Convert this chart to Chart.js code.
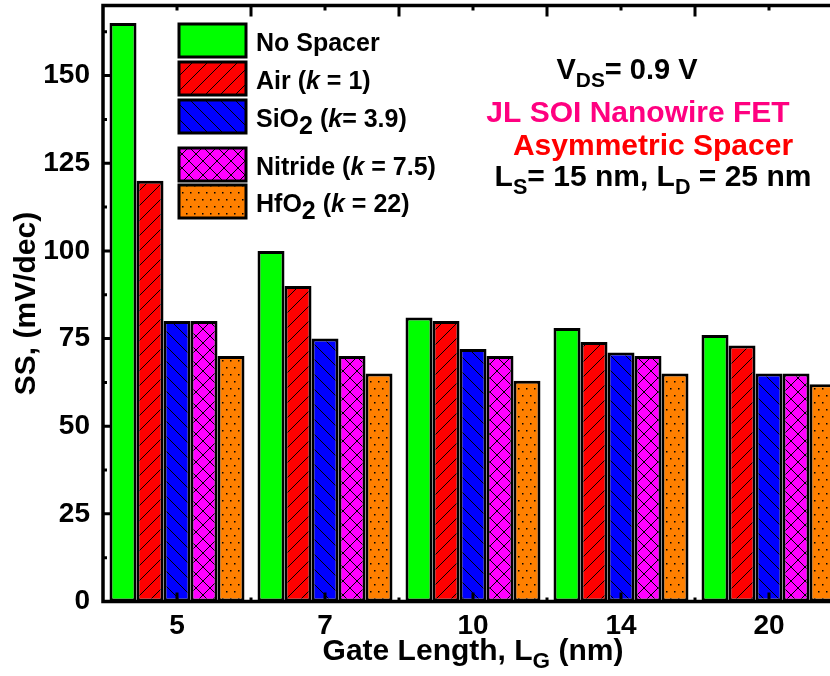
<!DOCTYPE html>
<html>
<head>
<meta charset="utf-8">
<script src="https://cdn.jsdelivr.net/npm/chart.js@4.4.1/dist/chart.umd.min.js"></script>
<style>
  html, body { margin: 0; padding: 0; background: #fff; overflow: hidden; }
  #wrap { width: 830px; height: 676px; overflow: hidden; position: relative; }
  #wrap canvas { position: absolute; left: 0; top: 0; }
</style>
</head>
<body>
<div id="wrap"><canvas id="chart" width="860" height="676"></canvas></div>
<script>
// gate lengths (nm) and subthreshold swing per spacer material
const categories = ['5', '7', '10', '14', '20'];
const noSpacer = [165, 100, 81, 78, 76];
const air = [120, 90, 80, 74, 73];
const sio2 = [80, 75, 72, 71, 65];
const nitride = [80, 70, 70, 70, 65];
const hfo2 = [70, 65, 63, 65, 62];
const yTicks = [0, 25, 50, 75, 100, 125, 150];

const FONT = 'Arial, "Liberation Sans", sans-serif';
const canvas = document.getElementById('chart');
const ctx = canvas.getContext('2d');

// small canvas tiles used as hatch fills
function makePattern(bg, w, h, draw) {
  const c = document.createElement('canvas');
  c.width = w; c.height = h;
  const g = c.getContext('2d');
  g.fillStyle = bg;
  g.fillRect(0, 0, w, h);
  g.strokeStyle = '#000';
  g.fillStyle = '#000';
  g.lineWidth = 1;
  draw(g, w, h);
  return ctx.createPattern(c, 'repeat');
}
const fwd = (g, w, h) => {
  g.beginPath();
  for (const k of [-w, 0, w]) { g.moveTo(k, h); g.lineTo(k + w, 0); }
  g.stroke();
};
const back = (g, w, h) => {
  g.beginPath();
  for (const k of [-w, 0, w]) { g.moveTo(k, 0); g.lineTo(k + w, h); }
  g.stroke();
};

const fills = {
  noSpacer: '#00ff00',
  air: makePattern('#ff0000', 15, 15, fwd),
  sio2: makePattern('#0000ff', 15, 15, back),
  nitride: makePattern('#ff00ff', 14, 14, (g, w, h) => { fwd(g, w, h); back(g, w, h); }),
  hfo2: makePattern('#ff8000', 8, 14, g => { g.fillRect(2, 3, 1.5, 1.5); g.fillRect(6, 10, 1.5, 1.5); })
};

// draws a line of text made of plain / italic / subscript parts
function drawRich(c, parts, x, y, size, align, color) {
  let total = 0;
  const items = parts.map(p => {
    const s = p.sub ? size * (p.scale || 0.72) : size;
    const font = (p.it ? 'italic ' : '') + 'bold ' + s + 'px ' + FONT;
    c.font = font;
    const w = c.measureText(p.t).width;
    total += w;
    return Object.assign({}, p, { font, w });
  });
  let cx = align === 'center' ? x - total / 2 : align === 'right' ? x - total : x;
  c.textAlign = 'left';
  c.textBaseline = 'alphabetic';
  items.forEach(p => {
    c.font = p.font;
    c.fillStyle = p.color || color || '#000';
    c.fillText(p.t, cx, y + (p.sub ? (p.drop != null ? p.drop : size * 0.28) : 0));
    cx += p.w;
  });
}

const legendItems = [
  { key: 'noSpacer', y: 24, parts: [{ t: 'No Spacer' }] },
  { key: 'air', y: 62, parts: [{ t: 'Air (' }, { t: 'k', it: true }, { t: ' = 1)' }] },
  { key: 'sio2', y: 100, parts: [{ t: 'SiO' }, { t: '2', sub: true, scale: 1, drop: 7 }, { t: ' (' }, { t: 'k', it: true }, { t: '= 3.9)' }] },
  { key: 'nitride', y: 148, parts: [{ t: 'Nitride (' }, { t: 'k', it: true }, { t: ' = 7.5)' }] },
  { key: 'hfo2', y: 185, parts: [{ t: 'HfO' }, { t: '2', sub: true, scale: 1, drop: 7 }, { t: ' (' }, { t: 'k', it: true }, { t: ' = 22)' }] }
];

const framePlugin = {
  id: 'frame',
  afterDatasetsDraw(chart) {
    const c = chart.ctx;
    const a = chart.chartArea;
    const xs = chart.scales.x;
    const ys = chart.scales.y;
    c.save();
    c.strokeStyle = '#000';
    c.lineWidth = 3;
    c.beginPath();
    // inward ticks on the left axis, minor every 12.5
    for (let v = 12.5; v < ys.max; v += 12.5) {
      const y = ys.getPixelForValue(v);
      const len = v % 25 === 0 ? 8 : 4;
      c.moveTo(a.left, y); c.lineTo(a.left + len, y);
    }
    // bottom / top ticks at category centres and boundaries
    categories.forEach((_, i) => {
      const x = xs.getPixelForValue(i);
      c.moveTo(x, a.bottom); c.lineTo(x, a.bottom - 9);
      c.moveTo(x, a.top); c.lineTo(x, a.top + 5);
      if (i > 0) {
        const b = (x + xs.getPixelForValue(i - 1)) / 2;
        c.moveTo(b, a.bottom); c.lineTo(b, a.bottom - 4);
        c.moveTo(b, a.top); c.lineTo(b, a.top + 11);
      }
    });
    c.stroke();
    c.lineWidth = 3.5;
    c.strokeRect(a.left, a.top, a.right - a.left, a.bottom - a.top);
    c.restore();
  },
  afterDraw(chart) {
    const c = chart.ctx;
    const a = chart.chartArea;
    c.save();
    // legend
    legendItems.forEach(item => {
      c.fillStyle = fills[item.key];
      c.fillRect(179, item.y, 67, 33);
      c.strokeStyle = '#000';
      c.lineWidth = 3;
      c.strokeRect(179, item.y, 67, 33);
      drawRich(c, item.parts, 256, item.y + 27, 25, 'left', '#000');
    });
    // annotations
    drawRich(c, [{ t: 'V' }, { t: 'DS', sub: true }, { t: '= 0.9 V' }], 627, 79, 29, 'center', '#000');
    drawRich(c, [{ t: 'JL SOI Nanowire FET' }], 638, 122, 30, 'center', '#ff0080');
    drawRich(c, [{ t: 'Asymmetric Spacer' }], 653, 155, 30, 'center', '#ff0000');
    drawRich(c, [{ t: 'L' }, { t: 'S', sub: true }, { t: '= 15 nm, L' }, { t: 'D', sub: true }, { t: ' = 25 nm' }], 653, 186, 30, 'center', '#000');
    // axis titles
    drawRich(c, [{ t: 'Gate Length, L' }, { t: 'G', sub: true, scale: 0.75 }, { t: ' (nm)' }], (a.left + a.right) / 2, 660, 30, 'center', '#000');
    c.translate(35, (a.top + a.bottom) / 2);
    c.rotate(-Math.PI / 2);
    drawRich(c, [{ t: 'SS, (mV/dec)' }], 0, 0, 30, 'center', '#000');
    c.restore();
  }
};

const series = [
  { label: 'No Spacer', key: 'noSpacer', data: noSpacer },
  { label: 'Air (k = 1)', key: 'air', data: air },
  { label: 'SiO2 (k= 3.9)', key: 'sio2', data: sio2 },
  { label: 'Nitride (k = 7.5)', key: 'nitride', data: nitride },
  { label: 'HfO2 (k = 22)', key: 'hfo2', data: hfo2 }
];

new Chart(ctx, {
  type: 'bar',
  data: {
    labels: categories,
    datasets: series.map(s => ({
      label: s.label,
      data: s.data,
      backgroundColor: fills[s.key],
      borderColor: '#000',
      borderWidth: 3,
      borderSkipped: false,
      barPercentage: 1,
      categoryPercentage: 0.912
    }))
  },
  options: {
    responsive: false,
    animation: false,
    devicePixelRatio: 1,
    layout: { padding: { top: 5.5, right: 17, left: 0, bottom: 0 } },
    plugins: { legend: { display: false }, tooltip: { enabled: false } },
    scales: {
      x: {
        grid: { display: false },
        border: { display: false },
        ticks: { color: '#000', padding: 0, font: { family: FONT, size: 28, weight: 'bold' } },
        afterFit(s) { s.height = 74.5; s.paddingLeft = 0; s.paddingRight = 0; }
      },
      y: {
        min: 0,
        max: 170,
        grid: { display: false },
        border: { display: false },
        afterBuildTicks(s) { s.ticks = yTicks.map(v => ({ value: v })); },
        ticks: { color: '#000', padding: 5, font: { family: FONT, size: 28, weight: 'bold' } },
        afterFit(s) { s.width = 103; s.paddingTop = 0; s.paddingBottom = 0; }
      }
    }
  },
  plugins: [framePlugin]
});
</script>
</body>
</html>
